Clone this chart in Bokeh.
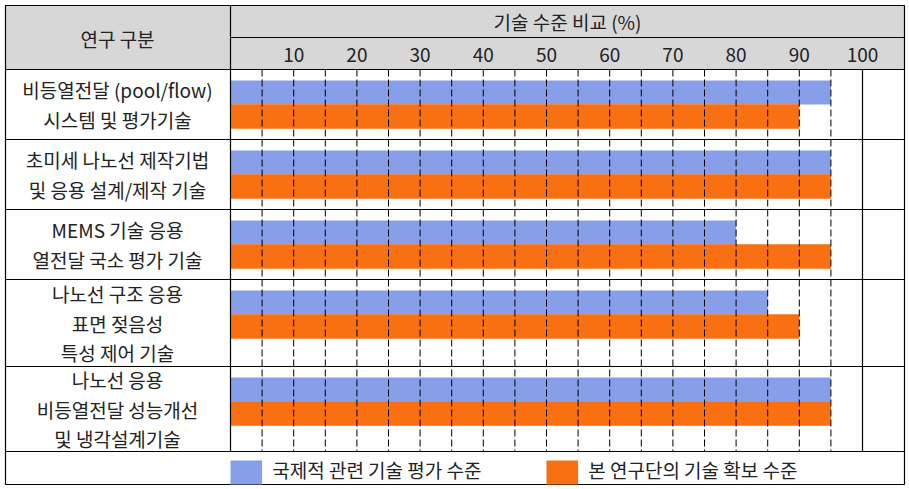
from bokeh.plotting import figure
from bokeh.models import ColumnDataSource, Range1d
from bokeh.core.properties import value
from bokeh.embed import file_html
from bokeh.resources import INLINE

# ---- data ----
categories = [
    "비등열전달 (pool/flow)\n시스템 및 평가기술",
    "초미세 나노선 제작기법\n및 응용 설계/제작 기술",
    "MEMS 기술 응용\n열전달 국소 평가 기술",
    "나노선 구조 응용\n표면 젖음성\n특성 제어 기술",
    "나노선 응용\n비등열전달 성능개선\n및 냉각설계기술",
]
intl_level = [95, 95, 80, 85, 95]   # 국제적 관련 기술 평가 수준
our_level = [90, 95, 95, 90, 95]    # 본 연구단의 기술 확보 수준
tick_values = [10, 20, 30, 40, 50, 60, 70, 80, 90, 100]
tick_labels = ["10", "20", "30", "40", "50", "60", "70", "80", "90", "100"]
header_left = "연구 구분"
header_right = "기술 수준 비교 (%)"
legend_labels = ["국제적 관련 기술 평가 수준", "본 연구단의 기술 확보 수준"]

BLUE = "#869fe8"
ORANGE = "#f87012"
GRAY = "#d7d7d7"
INK = "#222222"
FONT = value("Noto Sans CJK KR")
FS = "19px"

# ---- layout (page pixels) ----
W, H = 907, 487
PX0 = 230.0      # page x of 0 %
PPU = 6.32       # pixels per percent
def X(px):
    return (px - PX0) / PPU

left_px, right_px, top_px, bottom_px = 5, 904, 5, 484
row_edges = [69, 139, 209, 279, 366, 451]
header_mid = 37
LINE_GAP = 29.5

p = figure(width=W, height=H, output_backend="svg", toolbar_location=None,
           x_range=Range1d(X(0), X(W)), y_range=Range1d(H, 0),
           x_axis_type=None, y_axis_type=None, min_border=0)
p.outline_line_color = None
p.xgrid.visible = False
p.ygrid.visible = False
p.background_fill_color = "white"
p.border_fill_color = "white"

# header background
p.quad(left=X(left_px), right=X(right_px), top=top_px, bottom=row_edges[0],
       fill_color=GRAY, line_color=None)

# bars
blue_y = [row_edges[i] + 23 for i in range(5)]
orange_y = [row_edges[i] + 47 for i in range(5)]
src = ColumnDataSource(dict(cat=categories, intl=intl_level, ours=our_level,
                            by=blue_y, oy=orange_y))
p.hbar(y="by", left=0, right="intl", height=24, source=src,
       fill_color=BLUE, line_color=None)
p.hbar(y="oy", left=0, right="ours", height=24.5, source=src,
       fill_color=ORANGE, line_color=None)

# dashed grid
gx = list(range(5, 100, 5))
p.segment(x0=gx, x1=gx, y0=[row_edges[0]] * len(gx), y1=[row_edges[-1]] * len(gx),
          line_color="black", line_width=1, line_dash="7 3")
# solid 100 line
p.segment(x0=[100], x1=[100], y0=[row_edges[0]], y1=[row_edges[-1]],
          line_color="black", line_width=1.2)

# table lines
hx0 = [X(left_px)] * len(row_edges) + [X(PX0)]
hx1 = [X(right_px)] * len(row_edges) + [X(right_px)]
hy = row_edges + [header_mid]
p.segment(x0=hx0, x1=hx1, y0=hy, y1=hy, line_color="black", line_width=1.2)
p.segment(x0=[X(PX0)], x1=[X(PX0)], y0=[top_px], y1=[row_edges[-1]],
          line_color="black", line_width=1.2)
p.quad(left=X(left_px), right=X(right_px), top=top_px, bottom=bottom_px,
       fill_color=None, line_color="black", line_width=1.2)

# row labels (one text item per line, block centred in its row)
lx, ly, lt = [], [], []
for i, cat in enumerate(categories):
    parts = cat.split("\n")
    mid = (row_edges[i] + row_edges[i + 1]) / 2
    for k, part in enumerate(parts):
        lx.append(X(117))
        ly.append(mid + (k - (len(parts) - 1) / 2) * LINE_GAP)
        lt.append(part)
p.text(x=lx, y=ly, text=lt, text_font=FONT, text_font_size=FS,
       text_align="center", text_baseline="middle", text_color=INK)

# headers
p.text(x=[X(117)], y=[38], text=[header_left], text_font=FONT, text_font_size=FS,
       text_align="center", text_baseline="middle", text_color=INK)
p.text(x=[X(567)], y=[21], text=[header_right], text_font=FONT, text_font_size=FS,
       text_align="center", text_baseline="middle", text_color=INK)
p.text(x=tick_values, y=[54] * len(tick_values), text=tick_labels, text_font=FONT,
       text_font_size=FS, text_align="center", text_baseline="middle", text_color=INK)

# legend
p.quad(left=[0, 50], right=[5, 55], top=[460, 460], bottom=[bottom_px, bottom_px],
       fill_color=[BLUE, ORANGE], line_color=None)
p.text(x=[6.6, 56.6], y=[469, 469], text=legend_labels, text_font=FONT,
       text_font_size=FS, text_align="left", text_baseline="middle", text_color=INK)

open("out.html", "w").write(file_html(p, INLINE))
